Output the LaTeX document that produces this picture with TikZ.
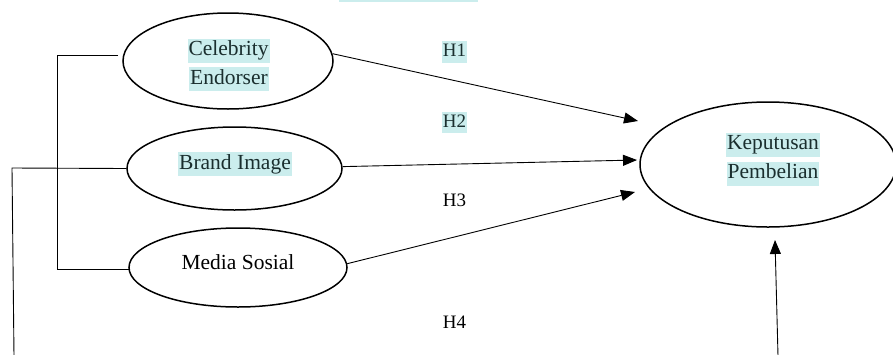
\documentclass[tikz,border=0pt]{standalone}
\usepackage{fontspec}
\setmainfont{Liberation Serif}
\usetikzlibrary{shapes.geometric,arrows.meta}
\definecolor{hl}{HTML}{CBEDED}
\definecolor{tx}{HTML}{1A2E2E}
\tikzset{
  oval/.style={draw, ellipse, line width=1.5pt, inner sep=0pt},
  lab/.style={font=\fontsize{21.5}{29}\selectfont, inner xsep=1pt, inner ysep=2pt, text height=15pt, text depth=5pt},
  hlab/.style={lab, fill=hl, text=tx},
  hyp/.style={font=\fontsize{19}{24}\selectfont, inner xsep=1pt, inner ysep=2pt, text height=13.5pt, text depth=4pt},
  hhyp/.style={hyp, fill=hl, text=tx},
  conn/.style={line width=0.9pt},
  arr/.style={line width=0.9pt, -{Triangle[length=14pt,width=11pt]}},
}
\begin{document}
\begin{tikzpicture}[x=1pt,y=-1pt]
\useasboundingbox (0,0) rectangle (893,354);
\fill[hl] (339,0) rectangle (478,2);
% ellipses
\node[oval, minimum width=210pt, minimum height=96pt] (ce) at (228,61) {};
\node[oval, minimum width=215pt, minimum height=83pt] (bi) at (234.5,168.5) {};
\node[oval, minimum width=218pt, minimum height=79pt] (ms) at (238,267.5) {};
\node[oval, minimum width=256pt, minimum height=125pt] (kp) at (768,164.5) {};
% texts
\node[hlab] (t1) at (228.5,50.5) {Celebrity};
\node[hlab] (t2) at (229,79) {Endorser};
\node[hlab] (t3) at (235,164) {Brand Image};
\node[lab] (t4) at (238,264) {Media Sosial};
\node[hlab] (t5) at (773,144.5) {Keputusan};
\node[hlab] (t6) at (773,173.5) {Pembelian};
% hypothesis labels
\node[hhyp] (h1) at (454.5,52) {H1};
\node[hhyp] (h2) at (454.5,122.5) {H2};
\node[hyp] (h3) at (454.5,202) {H3};
\node[hyp] (h4) at (454.5,324) {H4};
% coordinates
\coordinate (a1) at (638,121);
\coordinate (a2) at (637,160);
\coordinate (a3) at (635,192);
\coordinate (c1) at (118,55);
\coordinate (c2) at (57,55);
\coordinate (c3) at (57,269);
\coordinate (c4) at (129,269);
\coordinate (b1) at (12,168);
\coordinate (b2) at (14,356);
\coordinate (d0) at (778,356);
\coordinate (d1) at (775,240);
% connectors
\draw[arr] (ce.4) -- (a1);
\draw[arr] (bi.1) -- (a2);
\draw[arr] (ms.2) -- (a3);
\draw[conn] (c1) -- (c2) -- (c3) -- (c4);
\draw[conn] (bi.west) -- (b1) -- (b2);
\draw[arr] (d0) -- (d1);
\end{tikzpicture}
\end{document}
